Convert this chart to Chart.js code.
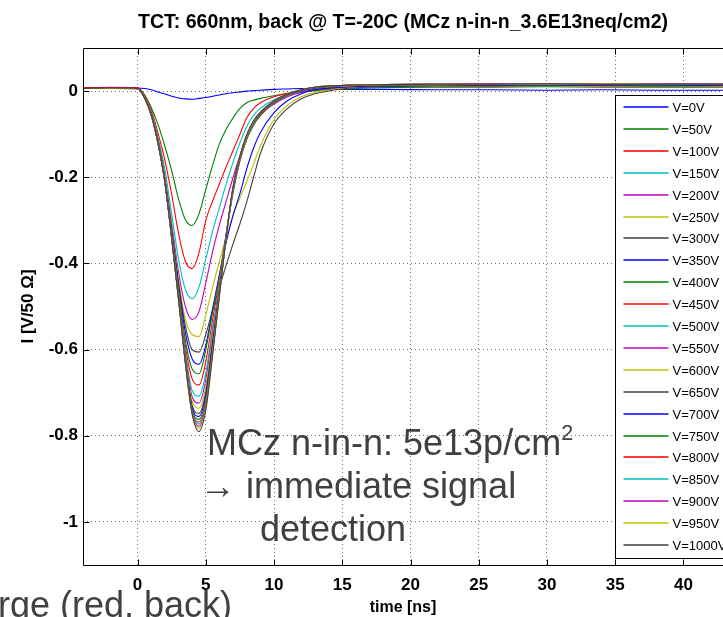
<!DOCTYPE html>
<html>
<head>
<meta charset="utf-8">
<script src="https://cdn.jsdelivr.net/npm/chart.js@4.4.1/dist/chart.umd.min.js"></script>
<style>
  html, body { margin: 0; padding: 0; background: #fff; overflow: hidden; }
  #wrap { position: relative; width: 723px; height: 617px; overflow: hidden; }
  #tct-chart { display: block; }
  .note {
    position: absolute;
    font-family: "Liberation Sans", Arial, sans-serif;
    font-size: 36px;
    color: #404040;
    white-space: nowrap;
    line-height: 1;
  }
  .note sup { font-size: 60%; vertical-align: 0.7em; line-height: 0; }
</style>
</head>
<body>
<div id="wrap">
  <canvas id="tct-chart" width="723" height="617"></canvas>
  <div class="note" style="left:207px; top:425px;">MCz n-in-n: 5e13p/cm<sup>2</sup></div>
  <div class="note" style="left:200px; top:468px;">&rarr; immediate signal</div>
  <div class="note" style="left:260px; top:511px;">detection</div>
  <div class="note" style="left:-2px; top:587px;">rge (red, back)</div>
</div>

<script>
// time axis in ns (sample points)
const timeNs = [-4, -2, 0, 0.5, 1, 1.5, 2, 2.5, 3, 3.5, 4, 4.5, 5, 5.5, 6, 6.5, 7, 7.5, 8, 8.5, 9, 10, 11, 12, 13, 15, 18, 22, 26, 30, 34, 38, 43];

// current I [V/50 Ohm] per bias voltage
const iV0    = [0.006, 0.007, 0.007, 0.006, 0.003, -0.002, -0.007, -0.012, -0.016, -0.018, -0.019, -0.017, -0.015, -0.012, -0.009, -0.006, -0.004, -0.002, 0.000, 0.001, 0.002, 0.004, 0.005, 0.006, 0.005, 0.004, 0.004, 0.003, 0.003, 0.002, 0.003, 0.002, 0.002];
const iV50   = [0.006, 0.006, 0.006, -0.008, -0.038, -0.078, -0.128, -0.185, -0.250, -0.298, -0.312, -0.285, -0.228, -0.172, -0.122, -0.088, -0.062, -0.040, -0.027, -0.021, -0.017, -0.011, -0.006, -0.002, 0.001, 0.005, 0.008, 0.009, 0.009, 0.010, 0.009, 0.009, 0.009];
const iV100  = [0.008, 0.009, 0.008, -0.010, -0.043, -0.098, -0.160, -0.240, -0.330, -0.395, -0.412, -0.375, -0.300, -0.255, -0.215, -0.175, -0.138, -0.100, -0.062, -0.040, -0.027, -0.013, -0.005, 0.000, 0.004, 0.008, 0.011, 0.012, 0.012, 0.013, 0.012, 0.012, 0.012];
const iV150  = [0.006, 0.007, 0.006, -0.012, -0.048, -0.108, -0.182, -0.285, -0.390, -0.460, -0.482, -0.455, -0.390, -0.325, -0.270, -0.215, -0.165, -0.120, -0.082, -0.056, -0.040, -0.020, -0.008, 0.000, 0.005, 0.010, 0.013, 0.014, 0.014, 0.014, 0.015, 0.014, 0.014];
const iV200  = [0.006, 0.006, 0.006, -0.013, -0.051, -0.113, -0.198, -0.308, -0.420, -0.500, -0.530, -0.512, -0.445, -0.372, -0.310, -0.255, -0.200, -0.150, -0.106, -0.076, -0.055, -0.030, -0.013, -0.003, 0.004, 0.010, 0.013, 0.014, 0.015, 0.015, 0.014, 0.015, 0.015];
const iV250  = [0.006, 0.007, 0.006, -0.014, -0.052, -0.116, -0.203, -0.318, -0.438, -0.530, -0.565, -0.570, -0.520, -0.455, -0.395, -0.338, -0.288, -0.248, -0.210, -0.170, -0.127, -0.066, -0.032, -0.013, -0.003, 0.006, 0.011, 0.012, 0.013, 0.013, 0.013, 0.014, 0.013];
const iV300  = [0.006, 0.006, 0.005, -0.015, -0.053, -0.118, -0.205, -0.322, -0.445, -0.545, -0.600, -0.606, -0.565, -0.508, -0.455, -0.403, -0.354, -0.308, -0.257, -0.200, -0.145, -0.076, -0.040, -0.018, -0.006, 0.005, 0.010, 0.012, 0.012, 0.013, 0.013, 0.012, 0.013];
const iV350  = [0.006, 0.006, 0.006, -0.015, -0.054, -0.119, -0.207, -0.325, -0.452, -0.560, -0.622, -0.634, -0.590, -0.505, -0.425, -0.350, -0.288, -0.238, -0.180, -0.132, -0.096, -0.050, -0.022, -0.006, 0.003, 0.009, 0.012, 0.013, 0.013, 0.014, 0.013, 0.013, 0.013];
const iV400  = [0.006, 0.007, 0.006, -0.015, -0.054, -0.120, -0.208, -0.328, -0.458, -0.578, -0.645, -0.656, -0.600, -0.512, -0.430, -0.330, -0.236, -0.162, -0.112, -0.079, -0.057, -0.028, -0.010, 0.001, 0.007, 0.011, 0.014, 0.014, 0.015, 0.015, 0.015, 0.014, 0.015];
const iV450  = [0.007, 0.008, 0.007, -0.015, -0.055, -0.121, -0.209, -0.332, -0.466, -0.592, -0.668, -0.682, -0.628, -0.530, -0.440, -0.332, -0.232, -0.160, -0.110, -0.077, -0.055, -0.027, -0.009, 0.002, 0.008, 0.012, 0.014, 0.015, 0.015, 0.016, 0.015, 0.016, 0.015];
const iV500  = [0.006, 0.006, 0.006, -0.015, -0.055, -0.121, -0.210, -0.335, -0.470, -0.604, -0.695, -0.708, -0.655, -0.548, -0.448, -0.333, -0.230, -0.158, -0.108, -0.076, -0.054, -0.026, -0.009, 0.002, 0.008, 0.012, 0.014, 0.015, 0.016, 0.016, 0.016, 0.015, 0.016];
const iV550  = [0.006, 0.007, 0.006, -0.015, -0.055, -0.121, -0.210, -0.337, -0.474, -0.612, -0.710, -0.724, -0.670, -0.560, -0.455, -0.333, -0.228, -0.156, -0.106, -0.074, -0.053, -0.025, -0.008, 0.002, 0.008, 0.012, 0.015, 0.015, 0.016, 0.016, 0.016, 0.016, 0.016];
const iV600  = [0.006, 0.006, 0.006, -0.015, -0.055, -0.121, -0.210, -0.338, -0.476, -0.618, -0.720, -0.736, -0.685, -0.570, -0.460, -0.334, -0.228, -0.156, -0.106, -0.074, -0.052, -0.025, -0.008, 0.002, 0.008, 0.012, 0.015, 0.015, 0.016, 0.016, 0.016, 0.016, 0.016];
const iV650  = [0.006, 0.007, 0.006, -0.015, -0.055, -0.121, -0.210, -0.339, -0.478, -0.622, -0.730, -0.748, -0.698, -0.580, -0.463, -0.334, -0.226, -0.154, -0.105, -0.073, -0.052, -0.025, -0.008, 0.002, 0.008, 0.013, 0.015, 0.016, 0.016, 0.016, 0.016, 0.016, 0.016];
const iV700  = [0.006, 0.006, 0.006, -0.015, -0.055, -0.121, -0.210, -0.340, -0.479, -0.625, -0.735, -0.755, -0.706, -0.588, -0.466, -0.335, -0.226, -0.154, -0.104, -0.072, -0.051, -0.024, -0.008, 0.002, 0.008, 0.013, 0.015, 0.016, 0.016, 0.016, 0.016, 0.016, 0.016];
const iV750  = [0.006, 0.007, 0.006, -0.015, -0.055, -0.121, -0.210, -0.340, -0.480, -0.627, -0.740, -0.762, -0.714, -0.594, -0.468, -0.335, -0.225, -0.153, -0.104, -0.072, -0.051, -0.024, -0.007, 0.002, 0.008, 0.013, 0.015, 0.016, 0.016, 0.016, 0.016, 0.016, 0.016];
const iV800  = [0.007, 0.008, 0.007, -0.015, -0.055, -0.121, -0.210, -0.341, -0.481, -0.628, -0.744, -0.768, -0.720, -0.600, -0.470, -0.336, -0.224, -0.153, -0.103, -0.071, -0.050, -0.024, -0.007, 0.003, 0.009, 0.013, 0.015, 0.016, 0.016, 0.017, 0.016, 0.016, 0.016];
const iV850  = [0.006, 0.006, 0.006, -0.015, -0.055, -0.121, -0.210, -0.341, -0.481, -0.629, -0.746, -0.773, -0.726, -0.604, -0.471, -0.336, -0.224, -0.152, -0.103, -0.071, -0.050, -0.024, -0.007, 0.003, 0.009, 0.013, 0.015, 0.016, 0.016, 0.016, 0.016, 0.016, 0.016];
const iV900  = [0.006, 0.007, 0.006, -0.015, -0.055, -0.121, -0.211, -0.342, -0.482, -0.630, -0.748, -0.778, -0.731, -0.607, -0.472, -0.336, -0.223, -0.152, -0.102, -0.070, -0.050, -0.023, -0.007, 0.003, 0.009, 0.013, 0.015, 0.016, 0.017, 0.016, 0.016, 0.017, 0.016];
const iV950  = [0.006, 0.006, 0.006, -0.015, -0.055, -0.121, -0.211, -0.342, -0.482, -0.630, -0.749, -0.783, -0.736, -0.609, -0.472, -0.337, -0.223, -0.151, -0.102, -0.070, -0.049, -0.023, -0.007, 0.003, 0.009, 0.013, 0.015, 0.016, 0.016, 0.016, 0.017, 0.016, 0.016];
const iV1000 = [0.006, 0.007, 0.006, -0.015, -0.055, -0.121, -0.211, -0.342, -0.483, -0.631, -0.750, -0.790, -0.740, -0.612, -0.473, -0.337, -0.222, -0.151, -0.101, -0.069, -0.049, -0.023, -0.007, 0.003, 0.009, 0.013, 0.015, 0.016, 0.016, 0.017, 0.016, 0.016, 0.016];

const series = [iV0, iV50, iV100, iV150, iV200, iV250, iV300, iV350, iV400, iV450, iV500,
                iV550, iV600, iV650, iV700, iV750, iV800, iV850, iV900, iV950, iV1000];
const seriesLabels = ['V=0V', 'V=50V', 'V=100V', 'V=150V', 'V=200V', 'V=250V', 'V=300V',
                      'V=350V', 'V=400V', 'V=450V', 'V=500V', 'V=550V', 'V=600V', 'V=650V',
                      'V=700V', 'V=750V', 'V=800V', 'V=850V', 'V=900V', 'V=950V', 'V=1000V'];

const xTicks = [0, 5, 10, 15, 20, 25, 30, 35, 40];
const yTicks = [-1, -0.8, -0.6, -0.4, -0.2, 0];
const yTickLabels = ['-1', '-0.8', '-0.6', '-0.4', '-0.2', '0'];

// matlab default line colours, cycled
const lineColors = ['#0000ff', '#008000', '#ff0000', '#00bfbf', '#bf00bf', '#bfbf00', '#404040'];

const FONT = '"Liberation Sans", Arial, Helvetica, sans-serif';

// axes box, inward tick marks and the legend box inside the plot
const matlabFrame = {
    id: 'matlabFrame',
    afterDatasetsDraw(chart) {
        const { ctx, chartArea: a, scales: { x, y } } = chart;
        ctx.save();
        ctx.strokeStyle = '#000';
        ctx.lineWidth = 1;
        ctx.setLineDash([]);

        const L = Math.round(a.left) + 0.5, T = Math.round(a.top) + 0.5, B = Math.round(a.bottom) + 0.5;
        ctx.beginPath();
        ctx.moveTo(L, T);
        ctx.lineTo(L, B);
        ctx.lineTo(a.right + 5, B);
        ctx.moveTo(L, T);
        ctx.lineTo(a.right + 5, T);
        ctx.stroke();

        // ticks point into the plot
        ctx.beginPath();
        xTicks.forEach(v => {
            const px = Math.round(x.getPixelForValue(v)) + 0.5;
            ctx.moveTo(px, B); ctx.lineTo(px, B - 6);
            ctx.moveTo(px, T); ctx.lineTo(px, T + 6);
        });
        yTicks.forEach(v => {
            const py = Math.round(y.getPixelForValue(v)) + 0.5;
            ctx.moveTo(L, py); ctx.lineTo(L + 6, py);
        });
        ctx.stroke();

        // legend
        const boxLeft = Math.round(x.getPixelForValue(35)) + 0.5;
        const boxTop = 95.5;
        const boxBottom = 558.5;
        ctx.fillStyle = '#fff';
        ctx.fillRect(boxLeft, boxTop, 200, boxBottom - boxTop);
        ctx.strokeRect(boxLeft, boxTop, 200, boxBottom - boxTop);

        ctx.font = '13px ' + FONT;
        ctx.textBaseline = 'middle';
        ctx.textAlign = 'left';
        seriesLabels.forEach((lab, i) => {
            const ly = Math.round(107 + i * 21.9);
            ctx.strokeStyle = lineColors[i % lineColors.length];
            ctx.lineWidth = 1.3;
            ctx.beginPath();
            ctx.moveTo(boxLeft + 8, ly);
            ctx.lineTo(boxLeft + 53, ly);
            ctx.stroke();
            ctx.fillStyle = '#000';
            ctx.fillText(lab, boxLeft + 57, ly + 1);
        });
        ctx.restore();
    }
};

const datasets = series.map((vals, i) => ({
    label: seriesLabels[i],
    data: timeNs.map((t, j) => ({ x: t, y: vals[j] })),
    borderColor: lineColors[i % lineColors.length],
    borderWidth: 1.1,
    pointRadius: 0,
    cubicInterpolationMode: 'monotone',
    order: series.length - i
}));

const tickFont = { family: FONT, size: 17, weight: 'bold' };

new Chart(document.getElementById('tct-chart'), {
    type: 'line',
    data: { datasets },
    plugins: [matlabFrame],
    options: {
        responsive: false,
        animation: false,
        events: [],
        layout: { padding: 0 },
        plugins: {
            legend: { display: false },
            tooltip: { enabled: false },
            title: {
                display: true,
                fullSize: false,
                text: 'TCT: 660nm, back @ T=-20C (MCz n-in-n_3.6E13neq/cm2)',
                color: '#000',
                font: { family: FONT, size: 19.5, weight: 'bold' },
                padding: { top: 11.3, bottom: 13.3 }
            }
        },
        scales: {
            x: {
                type: 'linear',
                min: -4,
                max: 42.9,
                afterBuildTicks: (scale) => { scale.ticks = xTicks.map(v => ({ value: v })); },
                afterFit: (scale) => { scale.height = 52; },
                ticks: {
                    color: '#000',
                    font: tickFont,
                    padding: 10,
                    maxRotation: 0,
                    callback: (v) => String(v)
                },
                grid: { color: 'rgba(0,0,0,0.55)', drawTicks: false, lineWidth: 1 },
                border: { display: false, dash: [1, 3] },
                title: {
                    display: true,
                    text: 'time [ns]',
                    color: '#000',
                    font: { family: FONT, size: 16, weight: 'bold', lineHeight: 1 },
                    padding: { top: 0, bottom: 1 }
                }
            },
            y: {
                type: 'linear',
                min: -1.1,
                max: 0.1,
                afterBuildTicks: (scale) => { scale.ticks = yTicks.map(v => ({ value: v })); },
                afterFit: (scale) => { scale.width = 83; },
                ticks: {
                    color: '#000',
                    font: tickFont,
                    padding: 5,
                    callback: (v, i) => yTickLabels[i]
                },
                grid: { color: 'rgba(0,0,0,0.55)', drawTicks: false, lineWidth: 1 },
                border: { display: false, dash: [1, 3] },
                title: {
                    display: true,
                    text: 'I [V/50 \u03A9]',
                    color: '#000',
                    font: { family: FONT, size: 17, weight: 'bold' },
                    padding: { top: 18, bottom: 0 }
                }
            }
        }
    }
});
</script>
</body>
</html>
